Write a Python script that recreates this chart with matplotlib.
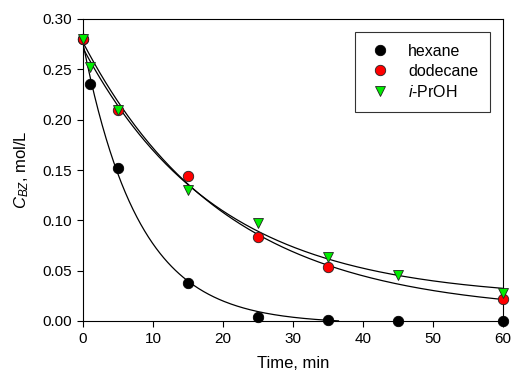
import numpy as np
import matplotlib
matplotlib.use('Agg')
import matplotlib.pyplot as plt

plt.rcParams['font.family'] = ['Liberation Sans', 'DejaVu Sans']
plt.rcParams['mathtext.fontset'] = 'custom'
plt.rcParams['mathtext.rm'] = 'Liberation Sans'
plt.rcParams['mathtext.it'] = 'Liberation Sans:italic'

# data
t_hex = [0, 1, 5, 15, 25, 35, 45, 60]
c_hex = [0.280, 0.235, 0.152, 0.038, 0.004, 0.001, 0.000, 0.000]
t_dod = [0, 5, 15, 25, 35, 60]
c_dod = [0.280, 0.210, 0.144, 0.083, 0.054, 0.022]
t_pro = [0, 1, 5, 15, 25, 35, 45, 60]
c_pro = [0.280, 0.252, 0.210, 0.130, 0.097, 0.064, 0.046, 0.028]


# fit y = a*exp(-k t) + c : grid over k, linear least squares for a, c
def fit_exp(t, y):
    t = np.asarray(t, float)
    y = np.asarray(y, float)
    best = None
    for k in np.linspace(0.005, 0.5, 2000):
        A = np.column_stack([np.exp(-k * t), np.ones_like(t)])
        coef, res, _, _ = np.linalg.lstsq(A, y, rcond=None)
        err = np.sum((A @ coef - y) ** 2)
        if best is None or err < best[0]:
            best = (err, k, coef)
    _, k, (a, c) = best
    return lambda x: a * np.exp(-k * x) + c


fig = plt.figure(figsize=(5.11, 3.76), dpi=100)
ax = fig.add_axes([83 / 511, 1 - 321 / 376, 420 / 511, 302 / 376])

f_hex = fit_exp(t_hex, c_hex)
f_dod = fit_exp(t_dod, c_dod)
f_pro = fit_exp(t_pro, c_pro)
x1 = np.linspace(0, 36.5, 200)
x2 = np.linspace(0, 60, 300)
ax.plot(x1, f_hex(x1), color='black', lw=0.9, zorder=2)
ax.plot(x2, f_dod(x2), color='black', lw=0.9, zorder=2)
ax.plot(x2, f_pro(x2), color='black', lw=0.9, zorder=2)

ax.plot(t_hex, c_hex, 'o', ms=7.5, mfc='black', mec='black', mew=0.6,
        label='hexane', zorder=3, clip_on=False)
ax.plot(t_dod, c_dod, 'o', ms=7.5, mfc='#ff0000', mec='#222222', mew=0.6,
        label='dodecane', zorder=3, clip_on=False)
ax.plot(t_pro, c_pro, 'v', ms=7.5, mfc='#00ee00', mec='#222222', mew=0.6,
        label='$i$-PrOH', zorder=4, clip_on=False)

ax.set_xlim(0, 60)
ax.set_ylim(0, 0.30)
ax.set_xticks([0, 10, 20, 30, 40, 50, 60])
ax.set_yticks([0.00, 0.05, 0.10, 0.15, 0.20, 0.25, 0.30])
ax.set_yticklabels(['0.00', '0.05', '0.10', '0.15', '0.20', '0.25', '0.30'])
ax.tick_params(direction='out', length=4, width=0.8, labelsize=11, pad=4)
for s in ax.spines.values():
    s.set_linewidth(0.8)

ax.set_xlabel('Time, min', fontsize=12, labelpad=7)
ax.set_ylabel('$C_{BZ}$, mol/L', fontsize=12, labelpad=8)

leg = ax.legend(loc='upper right', bbox_to_anchor=(0.97, 0.958), fontsize=11.5,
                frameon=True, fancybox=False, handletextpad=1.0,
                borderpad=0.75, labelspacing=0.32, handlelength=1.6,
                borderaxespad=0)
leg.get_frame().set_edgecolor('black')
leg.get_frame().set_linewidth(0.8)

fig.savefig('out.png', dpi=100)
